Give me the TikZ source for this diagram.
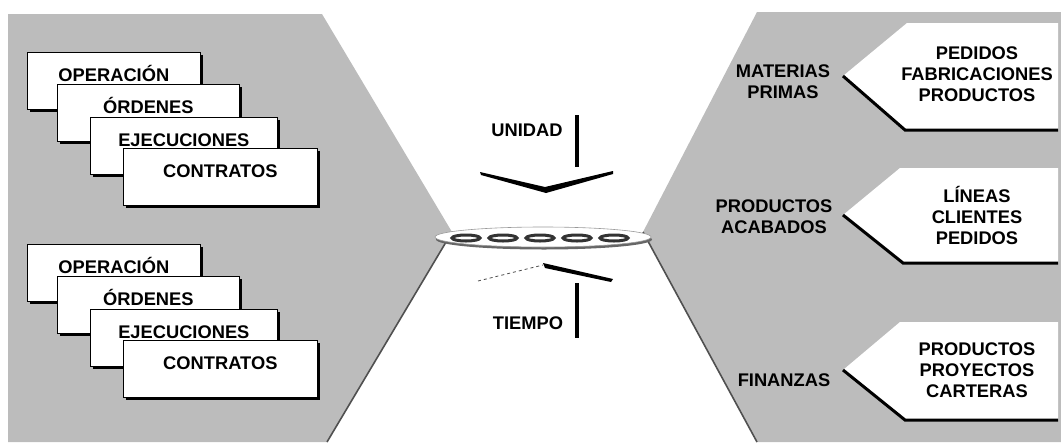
\documentclass[tikz,border=0pt]{standalone}
\usepackage{fontspec}
\setmainfont{Liberation Sans}
\usetikzlibrary{shadows}

\definecolor{panelgray}{RGB}{188,188,188}
\definecolor{edgegray}{RGB}{80,80,80}

\begin{document}
\begin{tikzpicture}[
    x=1pt, y=-1pt,
    panel/.style={fill=panelgray},
    card/.style={rectangle, draw, fill=white, line width=0.7pt, anchor=north west, minimum height=57pt, inner sep=0pt,
        drop shadow={shadow xshift=3pt, shadow yshift=-3pt, fill=black, opacity=1}},
    cardtext/.style={anchor=base, font=\fontsize{18.3}{21}\selectfont\bfseries},
    tabedge/.style={line width=3pt, line join=miter},
    tabtext/.style={align=center, font=\fontsize{18.3}{21}\selectfont\bfseries},
    sidetext/.style={align=center, font=\fontsize{18.3}{21}\selectfont\bfseries},
    bar/.style={line width=4pt}
]
\useasboundingbox (0,0) rectangle (1061,445);

% Left panel
\fill[panel] (8,14) -- (322,14) -- (452,232) -- (327,442) -- (8,442) -- cycle;
\draw[edgegray, line width=1.6pt] (452,232) -- (327,442);

% Right panel
\fill[panel] (757,12) -- (1061,12) -- (1061,442) -- (757,442) -- (643,232) -- cycle;
\draw[edgegray, line width=1.6pt] (643,232) -- (757,442);

% Stacked cards, two groups
\foreach \dy in {0,192} {
  \foreach \x/\y/\w/\txt [count=\i] in {27/52/173/OPERACIÓN, 57/84/182/ÓRDENES, 90/117/187/EJECUCIONES, 123/148/194/CONTRATOS} {
    \node[card, minimum width=\w pt] (card-\dy-\i) at (\x,\y+\dy) {};
    \node[cardtext] (cardtext-\dy-\i) at ([yshift=-29.5pt]card-\dy-\i.north) {\txt};
  }
}

% Tabs on the right
\fill[white] (907,23) -- (1058,23) -- (1058,130) -- (905,130) -- (843,76) -- cycle;
\draw[tabedge] (843,76) -- (905,130) -- (1058,130);
\fill[white] (900,168) -- (1058,168) -- (1058,263) -- (903,263) -- (843,215) -- cycle;
\draw[tabedge] (843,215) -- (903,263) -- (1058,263);
\fill[white] (900,322) -- (1058,322) -- (1058,420) -- (905,420) -- (843,370) -- cycle;
\draw[tabedge] (843,370) -- (905,420) -- (1058,420);

\node[tabtext] (tab1) at (977,74) {PEDIDOS\\FABRICACIONES\\PRODUCTOS};
\node[tabtext] (tab2) at (977,215) {LÍNEAS\\CLIENTES\\PEDIDOS};
\node[tabtext] (tab3) at (977,370) {PRODUCTOS\\PROYECTOS\\CARTERAS};

\node[sidetext] (materias) at (783,82) {MATERIAS\\PRIMAS};
\node[sidetext] (acabados) at (774,217) {PRODUCTOS\\ACABADOS};
\node[sidetext] (finanzas) at (784,380) {FINANZAS};

% Middle: labels, bars and chevrons
\node[sidetext] (unidad) at (527,130) {UNIDAD};
\node[sidetext] (tiempo) at (528,323) {TIEMPO};
\draw[bar] (577,115) -- (577,167);
\draw[bar] (577,283) -- (577,338);

\fill (480,172) -- (545,187) -- (613,171) -- (613,174) -- (546,193) -- (481,175) -- cycle;
\draw[black!70, dashed, line width=0.8pt] (478,281) -- (543,265);
\fill (543,263) -- (613,279) -- (611,282) -- (545,268) -- cycle;

% Chain
\fill[black!60] (544,239.5) ellipse (108pt and 10pt);
\draw[fill=white, draw=black!40, line width=0.6pt] (543,237) ellipse (108pt and 10pt);
\foreach \i in {0,...,4}
  \draw[black!80, line width=3pt] (466+37*\i,238) ellipse (14pt and 3pt);

\end{tikzpicture}
\end{document}
